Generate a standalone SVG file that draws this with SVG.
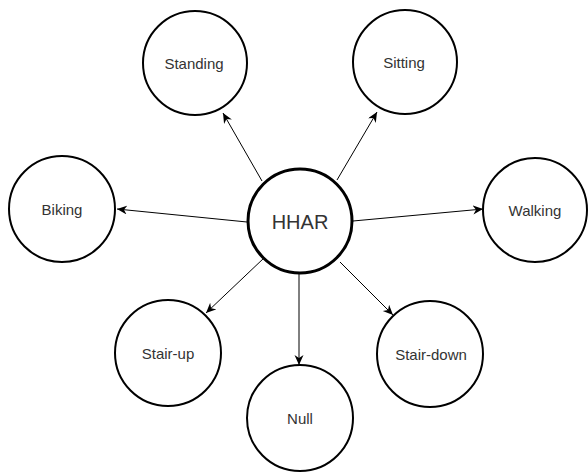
<svg xmlns="http://www.w3.org/2000/svg" width="588" height="473" viewBox="0 0 588 473">
<defs>
<style>
.n{fill:#fff;stroke:#000;stroke-width:2}
.h{fill:#fff;stroke:#000;stroke-width:3}
.t{font-family:"Liberation Sans",Arial,sans-serif;font-size:15px;fill:#333;text-anchor:middle;dominant-baseline:central}
.e{stroke:#000;stroke-width:1;fill:none;marker-end:url(#a)}
</style>
<marker id="a" markerUnits="userSpaceOnUse" markerWidth="12" markerHeight="10" refX="10" refY="4.5" orient="auto" viewBox="0 0 12 10">
<path d="M0,0 L10,4.5 L0,9 L3,4.5 Z" fill="#000"/>
</marker>
</defs>
<rect width="588" height="473" fill="#fff"/>
<g id="connectors">
<line class="e" x1="262" y1="181" x2="223" y2="113"/>
<line class="e" x1="337" y1="180" x2="377" y2="112"/>
<line class="e" x1="247" y1="222" x2="117" y2="209"/>
<line class="e" x1="353" y1="221" x2="483" y2="209"/>
<line class="e" x1="264" y1="258" x2="206" y2="313"/>
<line class="e" x1="299" y1="274" x2="299" y2="365"/>
<line class="e" x1="340" y1="262" x2="393" y2="315"/>
</g>
<g id="hhar"><circle class="h" cx="300" cy="221" r="52"/><text class="t" x="300" y="222" style="font-size:20px">HHAR</text></g>
<g id="standing"><circle class="n" cx="195" cy="63" r="52"/><text class="t" x="194" y="63">Standing</text></g>
<g id="sitting"><circle class="n" cx="405" cy="62" r="52"/><text class="t" x="404" y="62">Sitting</text></g>
<g id="biking"><circle class="n" cx="62" cy="209" r="53"/><text class="t" x="62" y="209">Biking</text></g>
<g id="walking"><circle class="n" cx="535" cy="210" r="52"/><text class="t" x="535" y="210">Walking</text></g>
<g id="stairup"><circle class="n" cx="168" cy="353" r="53"/><text class="t" x="168" y="353">Stair-up</text></g>
<g id="null"><circle class="n" cx="300" cy="418" r="53"/><text class="t" x="300" y="418">Null</text></g>
<g id="stairdown"><circle class="n" cx="430" cy="354" r="53"/><text class="t" x="431" y="354">Stair-down</text></g>
</svg>
